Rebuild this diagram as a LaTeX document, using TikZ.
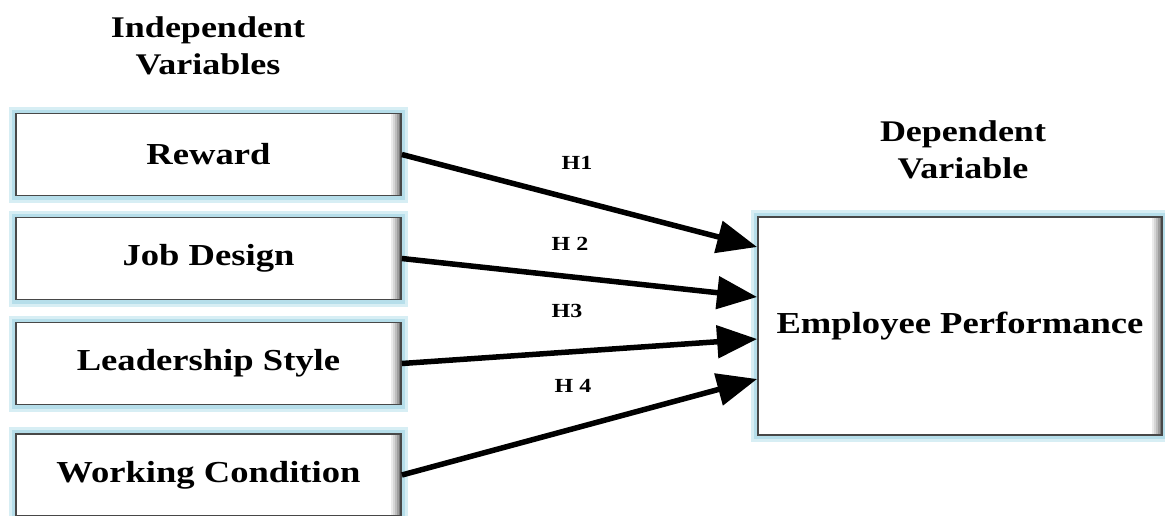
\documentclass[tikz,border=0pt]{standalone}
\usepackage{fontspec}
\setmainfont{Liberation Serif}
\usetikzlibrary{arrows.meta,calc}
\definecolor{glow}{RGB}{182,222,234}
\definecolor{glowsoft}{RGB}{215,238,244}
\definecolor{edge}{RGB}{72,72,72}
\newcommand{\stretchtxt}[1]{\scalebox{1.2}[1]{#1}}
\tikzset{
  x=1pt,y=1pt,
  var/.style={draw=edge, line width=1.8pt, fill=white, inner sep=0pt,
    font=\fontsize{30.5}{36}\selectfont\bfseries, text=black,
    preaction={draw=glowsoft, line width=14pt, rounded corners=6pt},
    preaction={draw=glow, line width=8pt, rounded corners=3pt},
    path picture={
      \foreach \i/\c in {10/8,8/16,6/26,4/38,2/52}{
        \fill[black!\c] ($(path picture bounding box.north east)+(-\i,0)$) rectangle (path picture bounding box.south east);}
    }},
  smallvar/.style={var, minimum width=385pt, minimum height=82pt},
  hdr/.style={font=\fontsize{30}{37}\selectfont\bfseries, align=center, inner sep=0pt},
  hyp/.style={font=\fontsize{20}{24}\selectfont\bfseries, inner sep=0pt},
  link/.style={line width=5.5pt, -{Triangle[length=40pt,width=32pt]}},
}
\begin{document}
\begin{tikzpicture}
\useasboundingbox (0,0) rectangle (1165,-515);
\node[hdr] (ind) at (208,-46) {\stretchtxt{Independent}\\\stretchtxt{Variables}};
\node[hdr] (dep) at (963,-150) {\stretchtxt{Dependent}\\\stretchtxt{Variable}};

\node[smallvar] (reward) at (208.5,-154.5) {\stretchtxt{Reward}};
\node[smallvar] (job) at (208.5,-258.5) {\stretchtxt{Job Design}};
\node[smallvar] (lead) at (208.5,-363.5) {\stretchtxt{Leadership Style}};
\node[smallvar] (work) at (208.5,-475) {\stretchtxt{Working Condition}};

\node[var, minimum width=404pt, minimum height=218pt] (ep) at (960,-326) {\stretchtxt{Employee Performance}};

\draw[link] (reward.east) -- ([yshift=79pt]ep.west);
\draw[link] (job.east) -- ([yshift=29pt]ep.west);
\draw[link] (lead.east) -- ([yshift=-13pt]ep.west);
\draw[link] (work.east) -- ([yshift=-53pt]ep.west);

\node[hyp] (h1) at (577,-163) {\stretchtxt{H1}};
\node[hyp] (h2) at (570,-244) {\stretchtxt{H 2}};
\node[hyp] (h3) at (567,-311) {\stretchtxt{H3}};
\node[hyp] (h4) at (573,-386) {\stretchtxt{H 4}};
\end{tikzpicture}
\end{document}
